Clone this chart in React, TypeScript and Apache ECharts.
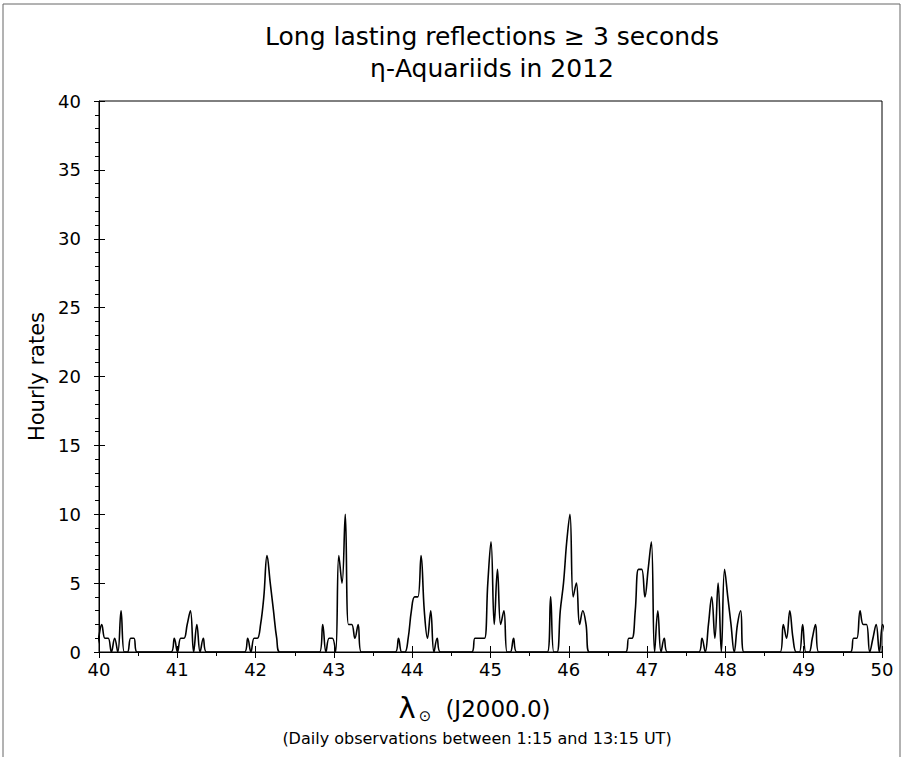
import React, { useEffect, useRef } from "react";
import * as echarts from "echarts";

// Solar longitude (J2000.0) of the first hourly point of each daily observation run
const dayStarts = [39.9527, 40.9208, 41.8582, 42.8161, 43.7842, 44.7599, 45.7267, 46.7254, 47.6603, 48.6986, 49.5964];
// Solar longitude advance per hour
const hourStep = 0.04112;
// Hourly rates of each daily run (1:15 - 13:15 UT)
const day1 = [0, 1, 2, 1, 1, 0, 1, 0, 3, 0, 0, 1, 1, 0];
const day2 = [0, 1, 0, 1, 1, 2, 3, 0, 2, 0, 1, 0];
const day3 = [0, 1, 0, 1, 1, 2, 4, 7, 5, 3, 1, 0];
const day4 = [0, 2, 0, 1, 1, 0, 7, 5, 10, 2, 2, 1, 2, 0];
const day5 = [0, 1, 0, 0, 1, 3, 4, 4, 7, 3, 1, 3, 0, 1, 0];
const day6 = [0, 1, 1, 1, 1, 5, 8, 2, 6, 2, 3, 0, 0, 1, 0];
const day7 = [0, 4, 0, 0, 3, 5, 8, 10, 4, 5, 2, 3, 2, 0];
const day8 = [0, 1, 1, 3, 6, 6, 4, 6, 8, 0, 3, 0, 1, 0];
const day9 = [0, 1, 0, 2, 4, 1, 5, 0, 6, 4, 2, 0, 2, 3, 0];
const day10 = [0, 2, 1, 3, 1, 0, 0, 2, 0, 0, 1, 2, 0];
const day11 = [0, 1, 1, 3, 2, 2, 0, 1, 2, 0, 2, 1];
const dayRates = [day1, day2, day3, day4, day5, day6, day7, day8, day9, day10, day11];

const xTicks = [40, 41, 42, 43, 44, 45, 46, 47, 48, 49, 50];
const yTicks = [0, 5, 10, 15, 20, 25, 30, 35, 40];

const FONT = "DejaVu Sans";

export default function App() {
  const ref = useRef<HTMLDivElement>(null);
  useEffect(() => {
    if (!ref.current) return;
    const chart = echarts.init(ref.current, null, { renderer: "svg" });
    const data: number[][] = [];
    dayStarts.forEach((s, d) => {
      dayRates[d].forEach((v, i) => data.push([s + i * hourStep, v]));
    });
    const xMin = xTicks[0];
    const xMax = xTicks[xTicks.length - 1];
    const yMin = yTicks[0];
    const yMax = yTicks[yTicks.length - 1];
    const xInt = xTicks[1] - xTicks[0];
    const yInt = yTicks[1] - yTicks[0];
    const black = "#000";
    chart.setOption({
      animation: false,
      backgroundColor: "#fff",
      textStyle: { fontFamily: FONT },
      grid: {
        left: 99,
        right: 22,
        top: 101,
        bottom: 105,
        show: true,
        borderColor: black,
        borderWidth: 1,
        backgroundColor: "transparent",
      },
      xAxis: [
        {
          type: "value",
          min: xMin,
          max: xMax,
          interval: xInt,
          axisLine: { show: true, lineStyle: { color: black, width: 1 } },
          axisTick: { show: true, inside: false, length: 6, lineStyle: { color: black } },
          minorTick: { show: true, splitNumber: 2, length: 4, lineStyle: { color: black } },
          axisLabel: { color: black, fontSize: 18, fontFamily: FONT, margin: 8 },
          splitLine: { show: false },
        },
        {
          type: "value",
          min: xMin,
          max: xMax,
          interval: xInt,
          position: "bottom",
          offset: 0,
          axisLine: { show: false },
          axisTick: { show: true, inside: true, length: 6, lineStyle: { color: black } },
          axisLabel: { show: false },
          splitLine: { show: false },
        },
      ],
      yAxis: [
        {
          type: "value",
          min: yMin,
          max: yMax,
          interval: yInt,
          name: "Hourly rates",
          nameLocation: "middle",
          nameGap: 51,
          nameTextStyle: { color: black, fontSize: 21, fontFamily: FONT },
          axisLine: { show: true, lineStyle: { color: black, width: 1 } },
          axisTick: { show: true, inside: false, length: 5, lineStyle: { color: black } },
          minorTick: { show: true, splitNumber: 5, length: 4, lineStyle: { color: black } },
          axisLabel: { color: black, fontSize: 18, fontFamily: FONT, margin: 18 },
          splitLine: { show: false },
        },
        {
          type: "value",
          min: yMin,
          max: yMax,
          interval: yInt,
          position: "left",
          offset: 0,
          axisLine: { show: false },
          axisTick: { show: true, inside: true, length: 6, lineStyle: { color: black } },
          axisLabel: { show: false },
          splitLine: { show: false },
        },
      ],
      series: [
        {
          type: "line",
          data,
          xAxisIndex: 0,
          yAxisIndex: 0,
          smooth: 0.4,
          symbol: "none",
          clip: true,
          lineStyle: { color: black, width: 1.6 },
        },
      ],
      graphic: [
        {
          type: "text",
          x: 492,
          y: 36,
          style: {
            text: "Long lasting reflections \u2265 3 seconds",
            fontSize: 25,
            fontFamily: FONT,
            fill: black,
            align: "center",
            verticalAlign: "middle",
          },
        },
        {
          type: "text",
          x: 492,
          y: 68,
          style: {
            text: "\u03b7-Aquariids in 2012",
            fontSize: 25,
            fontFamily: FONT,
            fill: black,
            align: "center",
            verticalAlign: "middle",
          },
        },
        {
          type: "text",
          x: 407,
          y: 708,
          style: { text: "\u03bb", fontSize: 29, fontFamily: FONT, fill: black, align: "center", verticalAlign: "middle" },
        },
        {
          type: "text",
          x: 425,
          y: 716,
          style: { text: "\u2299", fontSize: 15, fontFamily: FONT, fill: black, align: "center", verticalAlign: "middle" },
        },
        {
          type: "text",
          x: 498,
          y: 709,
          style: { text: "(J2000.0)", fontSize: 23, fontFamily: FONT, fill: black, align: "center", verticalAlign: "middle" },
        },
        {
          type: "text",
          x: 477,
          y: 738,
          style: {
            text: "(Daily observations between 1:15 and 13:15 UT)",
            fontSize: 16,
            fontFamily: FONT,
            fill: black,
            align: "center",
            verticalAlign: "middle",
          },
        },
        {
          type: "polyline",
          shape: { points: [[3, 757], [3, 4], [900, 4], [900, 757]] },
          style: { stroke: "#666", lineWidth: 1, fill: null },
        },
      ],
    });
    return () => chart.dispose();
  }, []);
  return (
    <div
      ref={ref}
      style={{ position: "fixed", left: 0, top: 0, width: 904, height: 757 }}
    />
  );
}
